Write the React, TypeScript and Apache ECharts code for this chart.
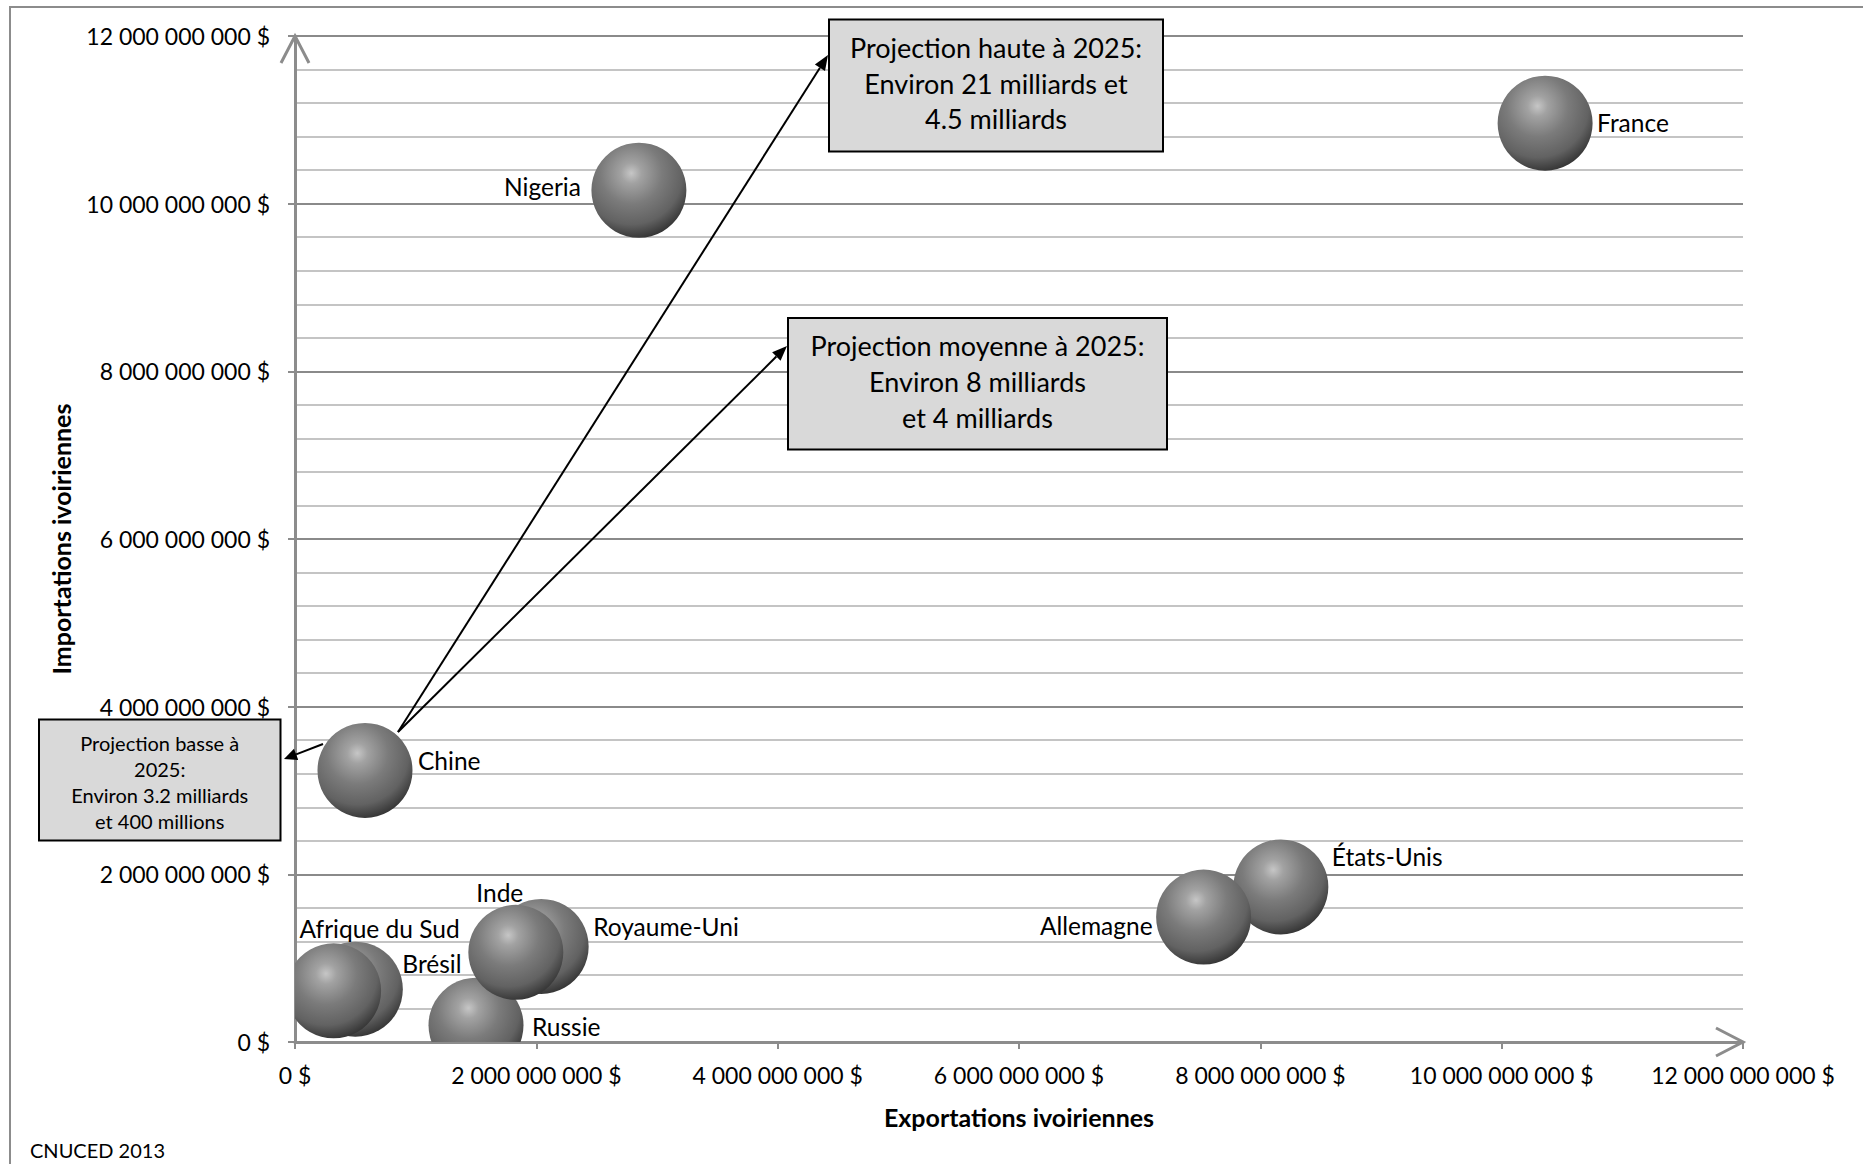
import React, { useEffect, useRef } from "react";
import * as echarts from "echarts";

// ---------- data ----------
const countries = [
  "Brésil",
  "Afrique du Sud",
  "Russie",
  "Royaume-Uni",
  "Inde",
  "États-Unis",
  "Allemagne",
  "Chine",
  "Nigeria",
  "France",
];
const exportsUSD = [0.5e9, 0.32e9, 1.5e9, 2.04e9, 1.83e9, 8.17e9, 7.53e9, 0.58e9, 2.85e9, 10.36e9];
const importsUSD = [0.63e9, 0.61e9, 0.2e9, 1.14e9, 1.07e9, 1.85e9, 1.49e9, 3.24e9, 10.16e9, 10.96e9];
const axisMax = 12e9;
const axisStep = 2e9;
const xAxisTitle = "Exportations ivoiriennes";
const yAxisTitle = "Importations ivoiriennes";
const sourceNote = "CNUCED 2013";
const projHaute = ["Projection haute à 2025:", "Environ 21 milliards et", "4.5 milliards"];
const projMoyenne = ["Projection moyenne à 2025:", "Environ 8 milliards", "et 4 milliards"];
const projBasse = ["Projection basse à", "2025:", "Environ 3.2 milliards", "et 400 millions"];

// ---------- layout / style ----------
const W = 1863;
const H = 1164;
const G = { left: 295, top: 36, right: 1743, bottom: 1042 };
const FONT = "Lato";
const R = 47.5;
const AXIS_COLOR = "#8c8c8c";

// label placement relative to bubble centre: [dx, dy, align]
const labelPlacement: Record<string, [number, number, string]> = {
  "Brésil": [47, -26, "left"],
  "Afrique du Sud": [46, -62, "center"],
  "Russie": [56, 1, "left"],
  "Royaume-Uni": [52, -20, "left"],
  "Inde": [-16, -60, "center"],
  "États-Unis": [51, -30, "left"],
  "Allemagne": [-51, 8, "right"],
  "Chine": [53, -10, "left"],
  "Nigeria": [-58, -4, "right"],
  "France": [52, -1, "left"],
};

const fmt = (v: number) =>
  String(Math.round(v)).replace(/\B(?=(\d{3})+(?!\d))/g, " ") + " $";

function arrow(x1: number, y1: number, x2: number, y2: number, head = 15, half = 6) {
  const a = Math.atan2(y2 - y1, x2 - x1);
  const bx = x2 - head * Math.cos(a);
  const by = y2 - head * Math.sin(a);
  const px = -Math.sin(a) * half;
  const py = Math.cos(a) * half;
  return [
    {
      type: "line",
      z: 100,
      shape: { x1, y1, x2: bx, y2: by },
      style: { stroke: "#000", lineWidth: 2 },
    },
    {
      type: "polygon",
      z: 100,
      shape: { points: [[x2, y2], [bx + px, by + py], [bx - px, by - py]] },
      style: { fill: "#000" },
    },
  ];
}

function box(
  x: number,
  y: number,
  w: number,
  h: number,
  lines: string[],
  size: number,
  lh: number,
  dy: number
) {
  return [
    {
      type: "rect",
      z: 100,
      shape: { x, y, width: w, height: h },
      style: { fill: "#d9d9d9", stroke: "#000", lineWidth: 2 },
    },
    {
      type: "text",
      z: 101,
      style: {
        text: lines.join("\n"),
        x: x + w / 2,
        y: y + h / 2 + dy,
        align: "center",
        verticalAlign: "middle",
        fontFamily: FONT,
        fontSize: size,
        lineHeight: lh,
        fill: "#000",
      },
    },
  ];
}

export default function App() {
  const ref = useRef<HTMLDivElement>(null);

  useEffect(() => {
    document.body.style.margin = "0";
    document.body.style.overflow = "hidden";
    const chart = echarts.init(ref.current!, null, { renderer: "svg" });

    const bubbleFill = () =>
      new echarts.graphic.RadialGradient(0.42, 0.32, 0.72, [
        { offset: 0, color: "#c6c6c6" },
        { offset: 0.15, color: "#a2a2a2" },
        { offset: 0.45, color: "#7b7b7b" },
        { offset: 0.75, color: "#626262" },
        { offset: 1, color: "#2e2e2e" },
      ]);

    const option: any = {
      animation: false,
      backgroundColor: "#fff",
      textStyle: { fontFamily: FONT },
      grid: {
        left: G.left,
        top: G.top,
        right: W - G.right,
        bottom: H - G.bottom,
        containLabel: false,
      },
      xAxis: {
        type: "value",
        min: 0,
        max: axisMax,
        interval: axisStep,
        name: xAxisTitle,
        nameLocation: "middle",
        nameGap: 62,
        nameTextStyle: { fontFamily: FONT, fontSize: 25, fontWeight: "bold", color: "#000" },
        axisLine: { show: true, lineStyle: { color: AXIS_COLOR, width: 3 } },
        axisTick: { show: true, length: 7, lineStyle: { color: AXIS_COLOR, width: 2 } },
        axisLabel: { formatter: fmt, fontFamily: FONT, fontSize: 23, color: "#000", margin: 21 },
        splitLine: { show: false },
      },
      yAxis: {
        type: "value",
        min: 0,
        max: axisMax,
        interval: axisStep,
        name: yAxisTitle,
        nameLocation: "middle",
        nameGap: 222,
        nameTextStyle: { fontFamily: FONT, fontSize: 25, fontWeight: "bold", color: "#000" },
        axisLine: { show: true, lineStyle: { color: AXIS_COLOR, width: 3 } },
        axisTick: { show: true, length: 7, lineStyle: { color: AXIS_COLOR, width: 2 } },
        axisLabel: { formatter: fmt, fontFamily: FONT, fontSize: 23, color: "#000", margin: 25 },
        splitLine: { show: true, lineStyle: { color: "#8a8a8a", width: 2 } },
        minorTick: { show: false, splitNumber: 5 },
        minorSplitLine: { show: true, lineStyle: { color: "#c4c4c4", width: 2 } },
      },
      series: [
        {
          type: "custom",
          clip: true,
          data: countries.map((c, i) => [exportsUSD[i], importsUSD[i], i]),
          encode: { x: 0, y: 1 },
          renderItem: (params: any, api: any) => {
            const p = api.coord([api.value(0), api.value(1)]);
            const name = countries[api.value(2)];
            const [dx, dy, align] = labelPlacement[name];
            return {
              type: "group",
              children: [
                {
                  type: "circle",
                  shape: { cx: p[0], cy: p[1], r: R },
                  style: { fill: bubbleFill() },
                },
                {
                  type: "text",
                  style: {
                    text: name,
                    x: p[0] + dx,
                    y: p[1] + dy,
                    align,
                    verticalAlign: "middle",
                    fontFamily: FONT,
                    fontSize: 24.5,
                    fill: "#000",
                  },
                },
              ],
            };
          },
        },
      ],
      graphic: [
        {
          type: "rect",
          z: 0,
          shape: { x: 10, y: 7, width: 1900, height: 1220 },
          style: { fill: "none", stroke: AXIS_COLOR, lineWidth: 2 },
        },
        {
          type: "polyline",
          z: 50,
          shape: { points: [[G.left - 14, G.top + 27], [G.left, G.top], [G.left + 14, G.top + 27]] },
          style: { stroke: AXIS_COLOR, lineWidth: 3, fill: "none" },
        },
        {
          type: "polyline",
          z: 50,
          shape: { points: [[G.right - 27, G.bottom - 14], [G.right, G.bottom], [G.right - 27, G.bottom + 14]] },
          style: { stroke: AXIS_COLOR, lineWidth: 3, fill: "none" },
        },
        ...box(829, 19.5, 334, 132, projHaute, 27, 35.7, -2.5),
        ...box(788, 318, 379, 131.5, projMoyenne, 27, 35.8, -2),
        ...box(39, 719.5, 241.5, 121, projBasse, 20, 25.9, 2),
        ...arrow(398, 732, 828, 55),
        ...arrow(398, 732, 787, 346),
        ...arrow(323, 744, 284, 759, 13, 6),
        {
          type: "text",
          z: 100,
          style: {
            text: sourceNote,
            x: 30,
            y: 1150,
            align: "left",
            verticalAlign: "middle",
            fontFamily: FONT,
            fontSize: 20,
            fill: "#000",
          },
        },
      ],
    };

    chart.setOption(option);
    return () => chart.dispose();
  }, []);

  return <div ref={ref} style={{ width: W + "px", height: H + "px" }} />;
}
